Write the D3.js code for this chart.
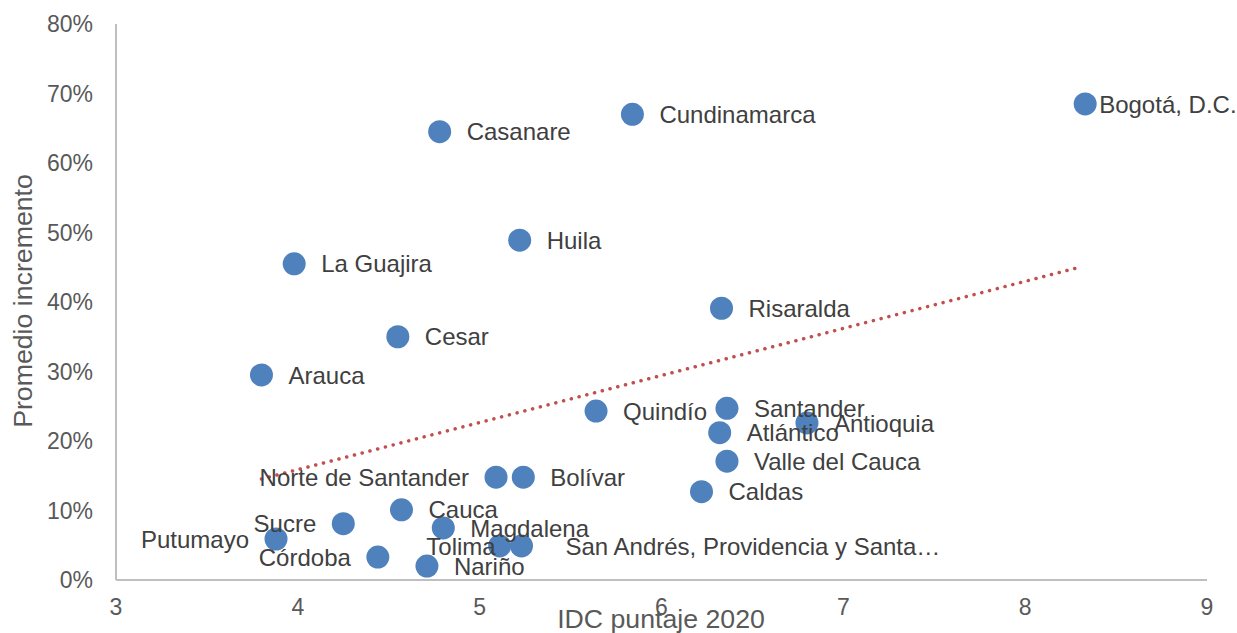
<!DOCTYPE html>
<html>
<head>
<meta charset="utf-8">
<script src="https://cdn.jsdelivr.net/npm/d3@7"></script>
<style>
  html, body { margin: 0; padding: 0; background: #ffffff; }
  svg { display: block; font-family: "Liberation Sans", Arial, sans-serif; }
</style>
</head>
<body>
<svg id="chart" width="1237" height="633"></svg>
<script>
// ---- Data ----
const departments = ["Bogotá, D.C.", "Cundinamarca", "Casanare", "Huila", "La Guajira", "Risaralda", "Cesar", "Arauca", "Quindío", "Santander", "Antioquia", "Atlántico", "Valle del Cauca", "Norte de Santander", "Bolívar", "Caldas", "Cauca", "Sucre", "Magdalena", "Putumayo", "Tolima", "San Andrés, Providencia y Santa…", "Córdoba", "Nariño"];
const idcScores = [8.33, 5.84, 4.78, 5.22, 3.98, 6.33, 4.55, 3.80, 5.64, 6.36, 6.80, 6.32, 6.36, 5.09, 5.24, 6.22, 4.57, 4.25, 4.80, 3.88, 5.11, 5.23, 4.44, 4.71];
const avgIncrease = [0.685, 0.670, 0.645, 0.489, 0.455, 0.391, 0.350, 0.295, 0.243, 0.247, 0.226, 0.212, 0.171, 0.148, 0.148, 0.127, 0.101, 0.081, 0.075, 0.059, 0.049, 0.049, 0.033, 0.020];
const xTicks = [3, 4, 5, 6, 7, 8, 9];
const yTicks = [0, 0.1, 0.2, 0.3, 0.4, 0.5, 0.6, 0.7, 0.8];
const xTitle = "IDC puntaje 2020";
const yTitle = "Promedio incremento";

// label placement (side / horizontal offset in px), styling only
const labelLeft = new Set(["Norte de Santander", "Sucre", "Putumayo", "Córdoba", "Tolima"]);
const labelDx = { "Bogotá, D.C.": 14, "San Andrés, Providencia y Santa…": 44, "Tolima": 4 };

// ---- Layout ----
const svg = d3.select("#chart");
const x = d3.scaleLinear().domain([3, 9]).range([116, 1207]);
const y = d3.scaleLinear().domain([0, 0.8]).range([580, 24]);

const textColor = "#595959";
const labelColor = "#404040";

// axes lines
svg.append("line").attr("x1", x(3)).attr("x2", x(9)).attr("y1", y(0)).attr("y2", y(0))
  .attr("stroke", "#bfbfbf").attr("stroke-width", 2);
svg.append("line").attr("x1", x(3)).attr("x2", x(3)).attr("y1", y(0)).attr("y2", y(0.8))
  .attr("stroke", "#bfbfbf").attr("stroke-width", 2);

// tick labels
svg.selectAll(".xt").data(xTicks).enter().append("text")
  .attr("x", d => x(d)).attr("y", 615)
  .attr("text-anchor", "middle").attr("fill", textColor).attr("font-size", 23)
  .text(d => d);
svg.selectAll(".yt").data(yTicks).enter().append("text")
  .attr("x", 93).attr("y", d => y(d)).attr("dy", "0.36em")
  .attr("text-anchor", "end").attr("fill", textColor).attr("font-size", 23)
  .text(d => d3.format(".0%")(d));

// titles
svg.append("text").attr("x", 661).attr("y", 628).attr("text-anchor", "middle")
  .attr("fill", textColor).attr("font-size", 26.7).text(xTitle);
svg.append("text").attr("transform", "translate(32,301) rotate(-90)").attr("text-anchor", "middle")
  .attr("fill", textColor).attr("font-size", 26.7).text(yTitle);

// trend line (least squares)
const n = idcScores.length;
const mx = d3.mean(idcScores), my = d3.mean(avgIncrease);
let sxy = 0, sxx = 0;
for (let i = 0; i < n; i++) { sxy += (idcScores[i] - mx) * (avgIncrease[i] - my); sxx += (idcScores[i] - mx) ** 2; }
const slope = sxy / sxx, intercept = my - slope * mx;
const x0 = d3.min(idcScores), x1 = d3.max(idcScores);
svg.append("line")
  .attr("x1", x(x0)).attr("y1", y(intercept + slope * x0))
  .attr("x2", x(x1 - 0.03)).attr("y2", y(intercept + slope * (x1 - 0.03)))
  .attr("stroke", "#c0504d").attr("stroke-width", 3.5)
  .attr("stroke-linecap", "round").attr("stroke-dasharray", "0.1,7.9");

const pts = departments.map((name, i) => ({ name, xv: idcScores[i], yv: avgIncrease[i] }));

// leader line for Tolima
const tol = pts.find(p => p.name === "Tolima");
svg.append("line").attr("x1", x(tol.xv) + 1).attr("x2", x(tol.xv) + 19)
  .attr("y1", y(tol.yv)).attr("y2", y(tol.yv)).attr("stroke", "#a6a6a6").attr("stroke-width", 2);

// points
svg.selectAll(".pt").data(pts).enter().append("circle")
  .attr("cx", d => x(d.xv)).attr("cy", d => y(d.yv)).attr("r", 11.5)
  .attr("fill", "#4f81bd");

// labels
svg.selectAll(".lb").data(pts).enter().append("text")
  .attr("x", d => {
    const dx = labelDx[d.name] !== undefined ? labelDx[d.name] : 27;
    return labelLeft.has(d.name) ? x(d.xv) - dx : x(d.xv) + dx;
  })
  .attr("y", d => y(d.yv)).attr("dy", "0.36em")
  .attr("text-anchor", d => labelLeft.has(d.name) ? "end" : "start")
  .attr("fill", labelColor).attr("font-size", 24)
  .text(d => d.name);
</script>
</body>
</html>
